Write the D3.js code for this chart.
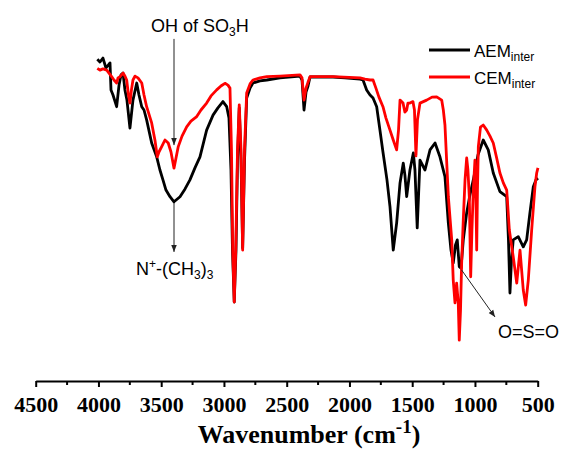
<!DOCTYPE html>
<html>
<head>
<meta charset="utf-8">
<script src="https://cdn.jsdelivr.net/npm/d3@7"></script>
<style>
  html, body { margin: 0; padding: 0; background: #fff; }
  svg { display: block; }
  .serif { font-family: "Liberation Serif", "Times New Roman", serif; font-weight: bold; }
</style>
</head>
<body>
<svg id="chart" width="565" height="450"></svg>
<script>
// ---- Data (wavenumber in cm^-1, transmittance in a.u.) ----
const xTicks = [4500, 4000, 3500, 3000, 2500, 2000, 1500, 1000, 500];
const xMinorTicks = [4250, 3750, 3250, 2750, 2250, 1750, 1250, 750];

const aemWave = [4009,3988,3964,3940,3908,3900,3884,3855,3836,3820,3804,3789,3773,3749,3725,3695,3677,3655,3637,3616,3576,3536,3510,3486,3462,3430,3398,3350,3310,3271,3231,3191,3138,3087,3048,3008,2978,2960,2944,2932,2918,2904,2892,2878,2864,2851,2836,2819,2792,2769,2713,2659,2553,2394,2378,2362,2346,2330,2314,2235,2131,2036,1916,1892,1863,1836,1812,1783,1757,1733,1701,1677,1651,1624,1597,1571,1558,1544,1518,1491,1478,1460,1438,1398,1358,1318,1279,1239,1212,1191,1173,1155,1141,1125,1111,1093,1066,1040,1013,976,934,894,854,801,747,733,721,709,695,655,615,588,562,535,514,498];
const aemT = [96.9,96.0,97.3,94.0,95.7,86.7,85.0,81.1,88.3,91.7,92.3,86.7,83.3,74.0,83.3,89.0,85.0,81.1,80.0,76.7,69.0,64.4,60.0,56.7,53.3,51.1,49.4,51.1,53.7,56.7,60.7,64.4,73.3,78.3,80.7,82.8,81.1,77.3,60.0,33.3,16.0,33.3,63.3,80.7,63.3,34.0,63.3,84.0,87.3,89.0,89.7,90.0,90.7,91.3,90.0,80.0,86.0,88.0,91.0,91.0,91.0,90.7,90.3,90.0,86.7,85.0,84.0,81.1,73.3,66.0,56.7,47.8,33.3,42.3,55.7,62.3,58.3,51.1,60.0,65.7,60.0,40.7,63.3,60.0,66.7,69.0,64.4,57.8,42.3,33.3,29.0,35.0,36.7,27.8,27.3,36.7,45.7,51.7,56.7,65.0,70.0,66.7,59.0,52.8,51.1,36.7,19.0,30.0,36.7,37.8,34.4,36.7,45.7,54.4,56.7,57.3];

const cemWave = [4009,3988,3964,3934,3916,3895,3876,3855,3844,3828,3804,3789,3775,3761,3749,3737,3725,3709,3685,3655,3637,3616,3576,3550,3531,3518,3496,3470,3444,3422,3398,3382,3364,3334,3297,3263,3217,3183,3138,3103,3058,3024,2992,2968,2952,2940,2930,2918,2906,2892,2878,2864,2851,2836,2819,2792,2769,2713,2659,2553,2394,2378,2362,2346,2330,2314,2131,1916,1876,1836,1812,1789,1765,1733,1709,1677,1651,1624,1609,1597,1573,1558,1544,1534,1518,1494,1482,1470,1458,1438,1385,1342,1305,1265,1252,1239,1212,1185,1173,1159,1146,1133,1125,1115,1106,1093,1079,1066,1056,1045,1034,1024,1013,1000,992,986,980,973,956,934,906,880,854,827,801,774,747,726,709,695,667,653,641,615,596,575,548,522,508,498];
const cemT = [93.9,93.3,93.7,93.3,92.3,91.1,90.0,89.0,90.7,91.1,92.3,91.3,90.0,85.0,82.3,86.7,90.0,91.3,90.7,89.0,85.0,81.1,75.7,70.0,64.4,66.0,67.8,70.0,69.0,66.0,60.6,64.0,67.8,71.3,74.4,76.3,77.8,80.0,82.3,84.7,86.7,88.0,88.9,88.3,87.3,66.7,33.3,16.0,33.3,66.7,81.7,66.7,33.3,66.7,85.7,88.7,90.0,90.7,91.1,91.3,91.7,90.7,83.3,87.3,89.3,91.1,91.1,90.7,90.3,90.0,90.0,87.3,84.3,81.1,77.3,73.3,70.0,66.7,73.3,83.3,82.3,79.3,80.0,82.3,82.3,82.8,80.0,64.7,76.7,82.3,83.3,84.3,84.4,83.3,80.0,75.0,51.1,36.7,23.3,15.7,22.3,15.7,3.3,13.3,29.0,43.3,56.7,64.0,60.0,51.1,24.4,40.0,53.3,63.3,50.0,33.3,53.3,67.8,74.3,75.0,73.3,71.3,69.0,64.0,59.0,55.7,53.3,40.0,35.0,31.1,22.3,28.3,33.3,20.0,15.0,23.3,40.0,54.4,59.0,60.7];

const seriesNames = ["AEM", "CEM"];
const seriesSub = "inter";
const seriesColors = ["#000000", "#ff0000"];
const xTitle = "Wavenumber (cm";
const xTitleSup = "-1";

// annotations: arrow from (wave,T) to (wave,T), text anchor (wave,T)
const annoOH = { arrow: [[3398, 103.7], [3398, 68.3]], text: [3581, 106.1] };
const annoN = { arrow: [[3398, 49.0], [3398, 32.7]], text: [3701, 25.0] };
const annoS = { arrow: [[1107, 26.7], [840, 11.0]], text: [816, 4.0] };

// ---- Scales ----
const svg = d3.select("#chart");
const x = d3.scaleLinear().domain([4500, 500]).range([35.7, 537.7]);
const y = d3.scaleLinear().domain([0, 100]).range([350, 50]);

// ---- Spectra ----
const line = d3.line().x(d => x(d[0])).y(d => y(d[1]));
const aem = aemWave.map((w, i) => [w, aemT[i]]);
const cem = cemWave.map((w, i) => [w, cemT[i]]);

svg.append("path").datum(aem)
  .attr("d", line).attr("fill", "none")
  .attr("stroke", seriesColors[0]).attr("stroke-width", 2.8)
  .attr("stroke-linejoin", "round");
svg.append("path").datum(cem)
  .attr("d", line).attr("fill", "none")
  .attr("stroke", seriesColors[1]).attr("stroke-width", 2.8)
  .attr("stroke-linejoin", "round");

// ---- X axis ----
const axisY = 381;
const axisG = svg.append("g").attr("transform", `translate(0,${axisY})`);
axisG.call(d3.axisBottom(x).tickValues(xTicks).tickSize(6).tickSizeOuter(0).tickFormat(d3.format("d")).tickPadding(9));
axisG.attr("font-family", "Liberation Serif, Times New Roman, serif")
  .attr("font-size", 22).attr("font-weight", "bold");
axisG.select(".domain").attr("stroke", "#000").attr("stroke-width", 2);
axisG.selectAll(".tick line").attr("stroke", "#000").attr("stroke-width", 2);
axisG.selectAll(".tick text").attr("fill", "#000").attr("class", "serif");
axisG.selectAll(".minor").data(xMinorTicks).enter().append("line")
  .attr("x1", d => x(d)).attr("x2", d => x(d))
  .attr("y1", 0).attr("y2", 4)
  .attr("stroke", "#000").attr("stroke-width", 2);

// axis title
const title = svg.append("text")
  .attr("class", "serif")
  .attr("x", 309).attr("y", 443)
  .attr("text-anchor", "middle")
  .style("font-size", "26px")
  .attr("fill", "#000");
title.append("tspan").text(xTitle);
title.append("tspan").attr("dy", -10).style("font-size", "19px").text(xTitleSup);
title.append("tspan").attr("dy", 10).text(")");

// ---- Legend ----
const legend = svg.append("g");
seriesNames.forEach((name, i) => {
  const ly = 50 + i * 27;
  legend.append("line").attr("x1", 429).attr("x2", 470).attr("y1", ly).attr("y2", ly)
    .attr("stroke", seriesColors[i]).attr("stroke-width", 3);
  const t = legend.append("text").attr("x", 474).attr("y", ly + 6.5)
    .style("font-family", "'Liberation Sans',Arial,sans-serif")
    .style("font-size", "17px").attr("fill", "#000");
  t.append("tspan").text(name);
  t.append("tspan").attr("dy", 4).style("font-size", "12px").text(seriesSub);
});

// ---- Annotations ----
const defs = svg.append("defs");
defs.append("marker").attr("id", "arr")
  .attr("viewBox", "0 0 10 10").attr("refX", 10).attr("refY", 5)
  .attr("markerWidth", 7).attr("markerHeight", 7).attr("markerUnits", "userSpaceOnUse")
  .attr("orient", "auto")
  .append("path").attr("d", "M0,1 L10,5 L0,9 Z").attr("fill", "#222");

[annoOH, annoN, annoS].forEach(a => {
  svg.append("line")
    .attr("x1", x(a.arrow[0][0])).attr("y1", y(a.arrow[0][1]))
    .attr("x2", x(a.arrow[1][0])).attr("y2", y(a.arrow[1][1]))
    .attr("stroke", "#222").attr("stroke-width", 1)
    .attr("marker-end", "url(#arr)");
});

const annoFont = "'Liberation Sans',Arial,sans-serif";
function annoText(pos) {
  return svg.append("text").attr("x", x(pos[0])).attr("y", y(pos[1]))
    .style("font-family", annoFont).style("font-size", "18px").attr("fill", "#000");
}
const tOH = annoText(annoOH.text);
tOH.append("tspan").text("OH of SO");
tOH.append("tspan").attr("dy", 4).style("font-size", "12px").text("3");
tOH.append("tspan").attr("dy", -4).text("H");

const tN = annoText(annoN.text);
tN.append("tspan").text("N");
tN.append("tspan").attr("dy", -7).style("font-size", "12px").text("+");
tN.append("tspan").attr("dy", 7).text("-(CH");
tN.append("tspan").attr("dy", 4).style("font-size", "12px").text("3");
tN.append("tspan").attr("dy", -4).text(")");
tN.append("tspan").attr("dy", 4).style("font-size", "12px").text("3");

const tS = annoText(annoS.text);
tS.text("O=S=O");
</script>
</body>
</html>
